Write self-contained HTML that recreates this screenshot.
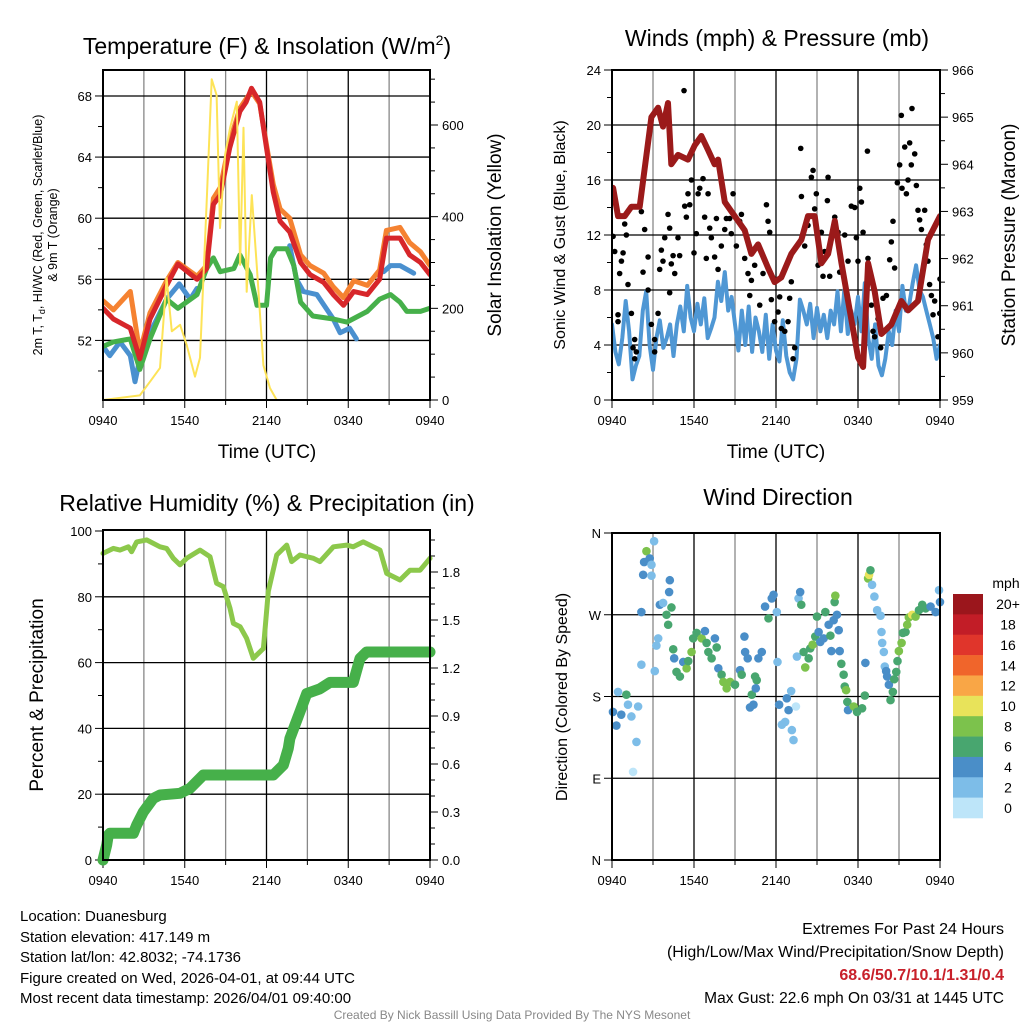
<!DOCTYPE html>
<html><head><meta charset="utf-8"><style>
html,body{margin:0;padding:0;background:#fff;}
svg{display:block;font-family:"Liberation Sans",Arial,sans-serif;}
</style></head><body>
<svg id="fig" width="1024" height="1024" viewBox="0 0 1024 1024" xmlns="http://www.w3.org/2000/svg">
<rect width="1024" height="1024" fill="#fff"/>
<text x="267" y="54" font-size="23" text-anchor="middle">Temperature (F) &amp; Insolation (W/m<tspan font-size="14" dy="-9">2</tspan><tspan dy="9">)</tspan></text>
<text x="777" y="46" font-size="23" text-anchor="middle">Winds (mph) &amp; Pressure (mb)</text>
<text x="267" y="511" font-size="23" text-anchor="middle">Relative Humidity (%) &amp; Precipitation (in)</text>
<text x="778" y="505" font-size="23" text-anchor="middle">Wind Direction</text>
<text x="267" y="458" font-size="19" text-anchor="middle">Time (UTC)</text>
<text x="776" y="458" font-size="19" text-anchor="middle">Time (UTC)</text>
<text transform="translate(42,235) rotate(-90)" font-size="12.5" text-anchor="middle">2m T, T<tspan font-size="9" dy="3">d</tspan><tspan dy="-3">, HI/WC (Red, Green, Scarlet/Blue)</tspan></text>
<text transform="translate(57,235) rotate(-90)" font-size="12.5" text-anchor="middle">&amp; 9m T (Orange)</text>
<text transform="translate(501,235) rotate(-90)" font-size="19" text-anchor="middle">Solar Insolation (Yellow)</text>
<text transform="translate(565,235) rotate(-90)" font-size="16" text-anchor="middle">Sonic Wind &amp; Gust (Blue, Black)</text>
<text transform="translate(1015,235) rotate(-90)" font-size="19" text-anchor="middle">Station Pressure (Maroon)</text>
<text transform="translate(43,695) rotate(-90)" font-size="19" text-anchor="middle">Percent &amp; Precipitation</text>
<text transform="translate(567,697) rotate(-90)" font-size="16" text-anchor="middle">Direction (Colored By Speed)</text>
<g font-size="15">
<text x="20" y="921">Location: Duanesburg</text>
<text x="20" y="942">Station elevation: 417.149 m</text>
<text x="20" y="962">Station lat/lon: 42.8032; -74.1736</text>
<text x="20" y="983">Figure created on Wed, 2026-04-01, at 09:44 UTC</text>
<text x="20" y="1003">Most recent data timestamp: 2026/04/01 09:40:00</text>
</g>
<g font-size="16" text-anchor="end">
<text x="1004" y="934">Extremes For Past 24 Hours</text>
<text x="1004" y="957">(High/Low/Max Wind/Precipitation/Snow Depth)</text>
<text x="1004" y="980" fill="#c8202a" font-weight="bold">68.6/50.7/10.1/1.31/0.4</text>
<text x="1004" y="1003" font-size="15.5">Max Gust: 22.6 mph On 03/31 at 1445 UTC</text>
</g>
<text x="512" y="1019" font-size="12" fill="#888" text-anchor="middle">Created By Nick Bassill Using Data Provided By The NYS Mesonet</text>
<g id="plots"></g>
</svg>
<script>
const xTickLabels = ["0940","1540","2140","0340","0940"];
const tempHours = [0,0.76,2.0,2.7,3.45,4.67,5.5,6.9,7.6,8.1,8.6,9.3,10.05,10.5,10.9,11.5,12.0,12.5,13.0,13.7,14.5,15.2,16.2,16.9,17.65,18.4,19.4,20.3,20.8,21.8,22.5,23.3,24];
const tempValues = [54.1,53.4,52.8,50.8,53.4,55.6,57.0,56.0,56.7,60.9,61.5,64.6,67.0,67.6,68.5,67.6,64.6,61.7,59.8,59.1,57.1,56.3,55.8,55.0,54.3,55.2,55.0,56.0,58.7,58.7,57.6,57.1,56.3];
const temp9mValues = [54.6,54.0,55.2,51.2,53.8,55.9,57.1,56.2,56.9,61.3,62.0,65.0,67.2,67.8,68.3,67.5,64.8,62.2,60.6,60.0,57.6,56.9,56.4,55.5,54.8,55.9,55.6,56.6,59.2,59.4,58.4,57.8,56.9];
const dewHours = [0,0.76,2.0,2.7,3.45,4.67,5.5,6.9,7.6,8.1,8.6,9.6,10.05,10.8,11.3,12.0,12.3,12.7,13.5,14.0,14.5,15.4,16.9,17.9,19.4,20.3,21.1,21.8,22.3,23.3,24];
const dewValues = [51.6,51.9,52.1,50.1,52.1,54.7,54.1,55.0,56.7,57.4,56.5,56.7,57.6,56.3,54.3,54.3,57.4,58.0,58.0,56.9,54.5,53.6,53.4,53.2,53.9,54.7,55.0,54.5,53.9,53.9,54.1];
const wcHours = [0,0.5,1.25,2.0,2.35,2.7,3.45,4.67,5.6,6.4,6.9,null,13.7,14.2,14.7,15.7,16.9,17.4,18.1,18.6,null,20.6,21.1,21.8,22.8];
const wcValues = [51.6,51.0,51.9,51.0,49.3,50.8,52.5,54.7,55.7,54.7,55.4,null,58.2,56.0,55.2,55.0,53.4,52.5,52.8,52.1,null,56.5,56.9,56.9,56.4];
const solarHours = [0,2.7,3.45,4.18,4.67,5.05,5.66,6.14,6.75,7.12,7.61,7.98,8.34,8.59,8.96,9.33,9.82,10.06,10.31,10.55,10.92,11.28,11.77,12.26,12.75,24];
const solarValues = [0,10,40,70,266,150,164,120,51,92,433,700,665,375,535,594,651,295,594,236,447,295,76,26,0,0];
const windHours = [0,0.25,0.5,0.75,1,1.25,1.5,1.75,2,2.25,2.5,2.75,3,3.25,3.5,3.75,4,4.25,4.5,4.75,5,5.25,5.5,5.75,6,6.25,6.5,6.75,7,7.25,7.5,7.75,8,8.25,8.5,8.75,9,9.25,9.5,9.75,10,10.25,10.5,10.75,11,11.25,11.5,11.75,12,12.25,12.5,12.75,13,13.25,13.5,13.75,14,14.25,14.5,14.75,15,15.25,15.5,15.75,16,16.25,16.5,16.75,17,17.25,17.5,17.75,18,18.25,18.5,18.75,19,19.25,19.5,19.75,20,20.25,20.5,20.75,21,21.25,21.5,21.75,22,22.25,22.5,22.75,23,23.25,23.5,23.75,24];
const windValues = [5.5,3.5,2.6,4.5,7.2,5.0,1.5,2.5,3.2,6.5,7.9,4.0,2.2,4.5,5.8,3.8,4.5,5.5,3.2,5.5,6.8,5.0,8.3,6.0,5.0,7.0,5.5,7.4,4.5,5.2,6.0,8.6,7.2,9.3,6.5,7.5,5.5,3.6,6.5,4.0,6.8,3.5,6.0,5.0,3.5,6.2,3.0,5.5,3.6,2.8,5.8,3.2,2.0,1.5,3.0,7.3,6.5,5.5,7.0,4.5,6.7,5.0,6.2,4.5,6.5,5.5,7.9,5.0,8.0,4.8,6.5,5.5,7.5,5.0,8.5,4.5,3.0,5.5,2.5,1.8,3.0,5.0,4.0,6.5,5.0,8.3,6.5,7.0,8.5,9.8,8.0,7.5,6.5,5.5,4.5,3.0,4.0];
const gustHours = [0.08,0.2,0.44,0.44,0.56,0.69,0.81,1.05,0.93,1.17,1.42,1.66,1.78,1.66,1.54,2.15,2.39,2.64,2.64,2.27,2.88,3.12,3.12,3.37,3.49,3.61,3.73,3.86,4.1,4.22,4.22,4.34,4.47,4.59,4.83,4.95,5.32,5.44,5.27,5.56,5.69,5.81,6.0,6.17,6.3,6.42,6.66,6.78,7.03,6.9,7.27,7.15,7.51,7.64,7.76,8.0,8.25,8.37,8.61,8.73,8.86,9.1,9.34,9.47,9.71,9.95,10.08,10.2,10.44,10.81,11.05,11.3,11.42,11.54,11.66,11.9,12.15,12.27,12.39,12.64,12.88,13.0,13.12,13.25,13.37,13.81,13.86,14.1,14.34,14.59,14.71,14.83,14.95,15.08,15.32,15.44,15.56,15.76,15.81,15.93,16.3,16.54,16.66,17.03,17.27,17.51,17.76,17.88,18.0,18.13,18.25,18.37,18.69,18.73,18.98,19.1,19.22,19.47,19.66,19.83,20.08,20.32,20.44,20.56,20.68,20.88,21.05,21.17,21.22,21.42,21.54,21.66,21.78,21.9,21.95,22.15,22.27,22.39,22.51,22.64,22.88,23.0,23.12,23.24,23.37,23.49,23.61,23.98,24.0,23.85];
const gustValues = [11.9,10.8,6.2,5.7,9.2,10.1,10.7,12.0,12.8,8.4,6.3,4.4,3.5,3.0,3.8,13.7,12.4,10.4,8.0,9.3,5.5,3.5,4.4,6.3,9.5,10.9,10.1,11.8,13.5,12.5,7.8,9.9,10.5,9.2,11.8,10.5,14.1,13.3,22.5,15.0,14.2,16.0,10.7,12.1,15.0,15.4,16.1,13.3,15.0,10.3,11.8,12.5,10.4,13.2,9.5,11.2,12.4,13.2,13.2,12.1,15.0,11.2,13.0,13.5,10.3,9.2,7.6,8.7,9.8,6.9,9.2,14.2,13.0,12.2,7.3,5.7,6.4,7.5,5.2,5.0,5.7,7.4,8.6,3.0,3.8,18.3,14.8,11.2,12.7,16.2,16.7,13.9,15.0,9.8,12.2,9.0,10.8,14.5,16.2,9.0,13.3,12.2,9.3,12.0,10.1,14.1,14.0,11.8,10.1,15.4,14.4,12.2,18.1,10.3,6.9,5.0,4.6,5.9,3.8,7.4,7.6,10.2,11.5,13.0,9.6,15.8,17.1,20.7,15.4,18.4,15.0,16.0,18.7,17.1,21.2,17.9,15.6,13.8,13.1,12.4,13.8,11.3,10.1,8.4,7.6,6.2,7.2,6.3,8.8,4.6];
const presHours = [0.08,0.44,0.93,1.42,2.03,2.88,3.37,3.73,4.1,4.34,4.83,5.56,6.05,6.54,7.03,7.51,7.76,8.25,8.98,9.71,10.2,10.69,11.42,11.9,12.39,13.12,13.86,14.34,14.83,15.32,15.81,16.3,16.79,17.52,18.01,18.37,18.74,19.22,19.71,20.44,21.17,21.66,22.39,23.12,24.0];
const presValues = [963.5,962.9,962.9,963.1,963.1,965.0,965.2,964.8,965.3,964.0,964.2,964.1,964.4,964.6,964.3,964.0,964.1,963.2,962.9,962.6,962.1,962.3,961.8,961.5,961.6,962.1,962.4,962.9,962.9,961.9,962.1,962.8,961.9,960.7,959.9,959.7,961.9,961.3,960.4,960.6,961.1,960.9,961.1,962.4,962.9];
const rhHours = [0,0.76,1.25,1.86,2.1,2.47,3.2,4.18,4.67,5.16,5.65,6.14,7.12,7.85,8.34,8.83,9.32,9.57,10.06,10.54,11.03,11.77,12.13,12.75,13.48,13.85,14.46,15.44,15.93,16.91,17.88,18.37,19.1,20.33,20.82,21.8,22.53,23.27,24];
const rhValues = [93.2,94.7,94.2,95.2,93.7,96.7,97.3,95.2,94.7,91.7,89.7,91.7,94.2,92.2,84.1,83.1,76.5,71.9,70.9,67.4,61.3,64.3,81.6,92.7,95.7,90.7,92.7,91.7,90.7,95.2,95.7,95.2,96.7,94.2,87.1,85.1,88.1,88.1,91.7];
const pcpHours = [0,0.27,0.39,0.51,2.23,2.47,2.96,3.69,4.18,5.65,6.39,7.36,12.5,13.24,13.6,13.72,14.46,14.95,15.93,16.66,18.37,18.86,19.35,24];
const pcpValues = [0,0.094,0.156,0.167,0.167,0.219,0.30,0.385,0.406,0.417,0.448,0.531,0.531,0.594,0.698,0.76,0.927,1.04,1.07,1.11,1.11,1.26,1.30,1.30];
const dirHours = [0.07,0.32,0.44,0.68,1.05,1.17,1.42,1.79,1.91,1.54,2.15,2.15,2.28,2.35,2.52,2.76,2.89,2.89,3.08,3.13,3.25,3.38,3.5,3.74,3.99,4.11,4.23,4.18,4.35,4.48,4.55,4.72,4.97,5.21,5.46,5.58,5.82,5.94,6.19,6.56,6.8,6.92,7.05,7.29,7.53,7.66,7.78,8.02,8.15,8.39,8.64,9.0,9.37,9.49,9.69,9.74,9.93,10.1,10.23,10.35,10.47,10.59,10.52,10.71,10.96,11.2,11.45,11.69,11.82,12.06,12.11,12.23,12.43,12.67,12.79,12.92,13.11,13.16,13.28,13.46,13.53,13.65,13.77,13.85,14.02,14.14,14.39,14.51,14.68,14.87,15.0,15.12,15.24,15.49,15.61,15.85,15.98,16.05,16.22,16.29,16.34,16.46,16.59,16.66,16.78,16.95,17.03,17.13,17.22,17.27,17.69,17.93,18.3,18.5,18.54,18.74,18.81,18.91,19.03,19.2,19.4,19.65,19.72,19.77,19.89,19.96,20.06,20.13,20.26,20.38,20.55,20.65,20.8,20.89,20.99,21.19,21.28,21.48,21.6,21.72,21.97,22.21,22.46,22.7,22.95,23.31,23.68,23.93,24.0];
const dirValues = [163,148,185,160,182,171,158,130,169,97,215,273,314,328,340,332,325,313,351,208,236,244,281,283,270,259,308,295,278,232,222,207,202,218,211,219,229,244,250,244,252,239,229,222,244,234,211,204,196,189,196,193,209,204,246,229,222,168,182,171,202,198,189,222,229,279,266,288,292,273,218,171,149,152,178,165,186,143,132,169,224,288,295,281,229,212,222,233,237,246,268,251,240,244,273,259,247,230,264,284,291,270,253,230,216,204,191,187,174,165,169,163,167,181,217,310,314,319,303,290,275,269,251,239,229,213,208,202,193,176,185,199,207,219,230,239,250,251,259,267,270,268,275,281,277,279,273,297,284];
const dirSpeeds = [4,4,2,4,6,2,2,2,2,0,2,4,4,4,8,4,2,2,2,2,2,2,4,2,6,6,4,4,6,6,4,6,6,4,8,6,8,6,6,8,4,6,6,6,4,6,4,6,8,8,8,6,4,6,4,4,4,4,6,4,6,6,4,4,4,4,6,4,4,2,2,4,2,2,4,4,2,2,2,0,2,2,4,6,6,8,6,6,8,6,6,4,4,4,6,4,6,4,4,6,8,4,4,4,6,6,6,8,6,4,8,6,6,6,4,8,10,6,2,2,2,2,2,2,2,2,4,4,4,6,6,6,6,6,8,8,6,6,8,8,10,8,6,6,6,4,4,2,4];
const speedLabels = ["20+","18","16","14","12","10","8","6","4","2","0"];
const speedColors = ["#9b161c","#c21d27","#e0352b","#f0652b","#f9a646","#e8e35a","#7cc24c","#48a66f","#4a8ec8","#7dbde8","#bde5f9"];

const NS="http://www.w3.org/2000/svg";
const root=document.getElementById('plots');
function mk(tag,attrs,parent){const e=document.createElementNS(NS,tag);for(const k in attrs)e.setAttribute(k,attrs[k]);(parent||root).appendChild(e);return e;}
function panel(x0,x1,y0,y1){return {x0,x1,y0,y1,sx:h=>x0+(h/24)*(x1-x0)};}
function lin(d0,d1,p0,p1){return v=>p0+(v-d0)/(d1-d0)*(p1-p0);}

function frame(P,name,yTicks,yScale,rTicks,rScale){
  const g=mk('g',{});
  
  
  for(let i=1;i<8;i++){const x=P.sx(i*3);
    const gl=mk('line',{x1:x,x2:x,y1:P.y0,y2:P.y1,stroke:i%2==0?'#000':'#888','stroke-width':1.3},g);
    
    }
  yTicks.forEach(t=>{const y=yScale(t.v);
    if(t.grid){const hl=mk('line',{x1:P.x0,x2:P.x1,y1:y,y2:y,stroke:'#000','stroke-width':1.3},g);
      
      }
    mk('line',{x1:P.x0-(t.l?8:5),x2:P.x0,y1:y,y2:y,stroke:'#000','stroke-width':1},g);
    if(t.l!==undefined){const tx=mk('text',{x:P.x0-11,y:y+5,'font-size':13,'text-anchor':'end'},g);tx.textContent=t.l;
      
      }
  });
  if(rTicks)rTicks.forEach(t=>{const y=rScale(t.v);
    mk('line',{x1:P.x1,x2:P.x1+(t.l?8:5),y1:y,y2:y,stroke:'#000','stroke-width':1},g);
    if(t.l!==undefined){const tx=mk('text',{x:P.x1+12,y:y+5,'font-size':13,'text-anchor':'start'},g);tx.textContent=t.l;
      
      }
  });
  xTickLabels.forEach((l,i)=>{const x=P.sx(i*6);
    mk('line',{x1:x,x2:x,y1:P.y1,y2:P.y1+8,stroke:'#000'},g);
    const tx=mk('text',{x:x,y:P.y1+25,'font-size':13,'text-anchor':'middle'},g);tx.textContent=l;
    
    });
  for(let i=1;i<8;i+=2){const x=P.sx(i*3);mk('line',{x1:x,x2:x,y1:P.y1,y2:P.y1+5,stroke:'#000'},g);}
  return g;
}
function border(P,name){const r=mk('rect',{x:P.x0,y:P.y0,width:P.x1-P.x0,height:P.y1-P.y0,fill:'none',stroke:'#000','stroke-width':2});
  
  }
function pathOf(xs,ys,sx,sy){let d='',pen=false;for(let i=0;i<xs.length;i++){if(xs[i]===null){pen=false;continue;}d+=(pen?'L':'M')+sx(xs[i]).toFixed(1)+','+sy(ys[i]).toFixed(1);pen=true;}return d;}
function line(xs,ys,sx,sy,color,w,name,clip){const a={d:pathOf(xs,ys,sx,sy),fill:'none',stroke:color,'stroke-width':w,'stroke-linejoin':'round','stroke-linecap':'round'};if(clip)a['clip-path']=clip;const p=mk('path',a);
  
  return p;}
function clipFor(P,id){const c=mk('clipPath',{id});mk('rect',{x:P.x0,y:P.y0,width:P.x1-P.x0,height:P.y1-P.y0},c);return 'url(#'+id+')';}

const P1=panel(103,430,70,400);
const ty=lin(48.1,69.7,400,70), sy=lin(0,720,400,70);
const t1=[];for(let v=50;v<=68;v+=2)t1.push({v,l:(v-52)%4==0?String(v):undefined,grid:(v-52)%4==0});
const r1=[];for(let v=0;v<=700;v+=50)r1.push({v,l:v%200==0?String(v):undefined});
frame(P1,'temperature',t1,ty,r1,sy);
const c1=clipFor(P1,'c1');
line(wcHours,wcValues,P1.sx,ty,'#4a90cf',5,'heat-index-wind-chill-line',c1);
line(dewHours,dewValues,P1.sx,ty,'#46b04a',5,'dewpoint-line',c1);
line(tempHours,temp9mValues,P1.sx,ty,'#f58231',5,'temp-9m-line',c1);
line(tempHours,tempValues,P1.sx,ty,'#d7262a',5,'temp-2m-line',c1);
line(solarHours,solarValues,P1.sx,sy,'#fde357',2,'solar-insolation-line',c1);
border(P1,'temperature');

const P2=panel(612,940,70,400);
const wy=lin(0,24,400,70), py=lin(959,966,400,70);
const t2=[];for(let v=0;v<=24;v+=2)t2.push({v,l:v%4==0?String(v):undefined,grid:v%4==0&&v>0&&v<24});
const r2=[];for(let v=959;v<=966;v+=0.5)r2.push({v,l:Number.isInteger(v)?String(v):undefined});
frame(P2,'winds',t2,wy,r2,py);
const c2=clipFor(P2,'c2');
line(windHours,windValues,P2.sx,wy,'#4f97d4',4,'sonic-wind-line',c2);
const gg=mk('g',{'clip-path':c2});


gustHours.forEach((h,i)=>{const c=mk('circle',{cx:P2.sx(h),cy:wy(gustValues[i]),r:2.8,fill:'#000'},gg);
  
  });
line(presHours,presValues,P2.sx,py,'#9b1a1a',6,'pressure-line',c2);
border(P2,'winds');

const P3=panel(103,430,530,860);
const hy=lin(0,100,860,531), ry=lin(0,2.0625,860,530);
const t3=[];for(let v=0;v<=100;v+=10)t3.push({v,l:v%20==0?String(v):undefined,grid:v%20==0&&v>0&&v<100});
const r3=[];for(let v=0;v<=20;v+=1)r3.push({v:v/10,l:v%3==0?(v/10).toFixed(1):undefined});
frame(P3,'humidity',t3,hy,r3,ry);
line(rhHours,rhValues,P3.sx,hy,'#8cc84b',5,'relative-humidity-line');
line(pcpHours,pcpValues,P3.sx,ry,'#46b04a',11,'precipitation-line');
border(P3,'humidity');

const P4=panel(612,940,533,860);
const dy=lin(0,360,860,533);
const dl=['N','E','S','W','N'];
const t4=dl.map((l,i)=>({v:i*90,l,grid:i>0&&i<4}));
frame(P4,'direction',t4,dy,null,null);
const dg=mk('g',{});


function speedColor(s){const idx=Math.max(0,Math.min(10,10-Math.floor(s/2)));return speedColors[idx];}
dirHours.forEach((h,i)=>{const c=mk('circle',{cx:P4.sx(h),cy:dy(dirValues[i]),r:4.3,fill:speedColor(dirSpeeds[i])},dg);
  
  });
border(P4,'direction');
const cb=mk('g',{});


const cbTop=594,cbH=224/11;
speedLabels.forEach((l,i)=>{mk('rect',{x:953,y:cbTop+i*cbH,width:30,height:cbH+0.3,fill:speedColors[i]},cb);
  const t=mk('text',{x:1008,y:cbTop+i*cbH+cbH/2+5,'font-size':14,'text-anchor':'middle'},cb);t.textContent=l;
  
  });
const cbt=mk('text',{x:1006,y:588,'font-size':14,'text-anchor':'middle'},cb);cbt.textContent='mph';


</script>
</body></html>
